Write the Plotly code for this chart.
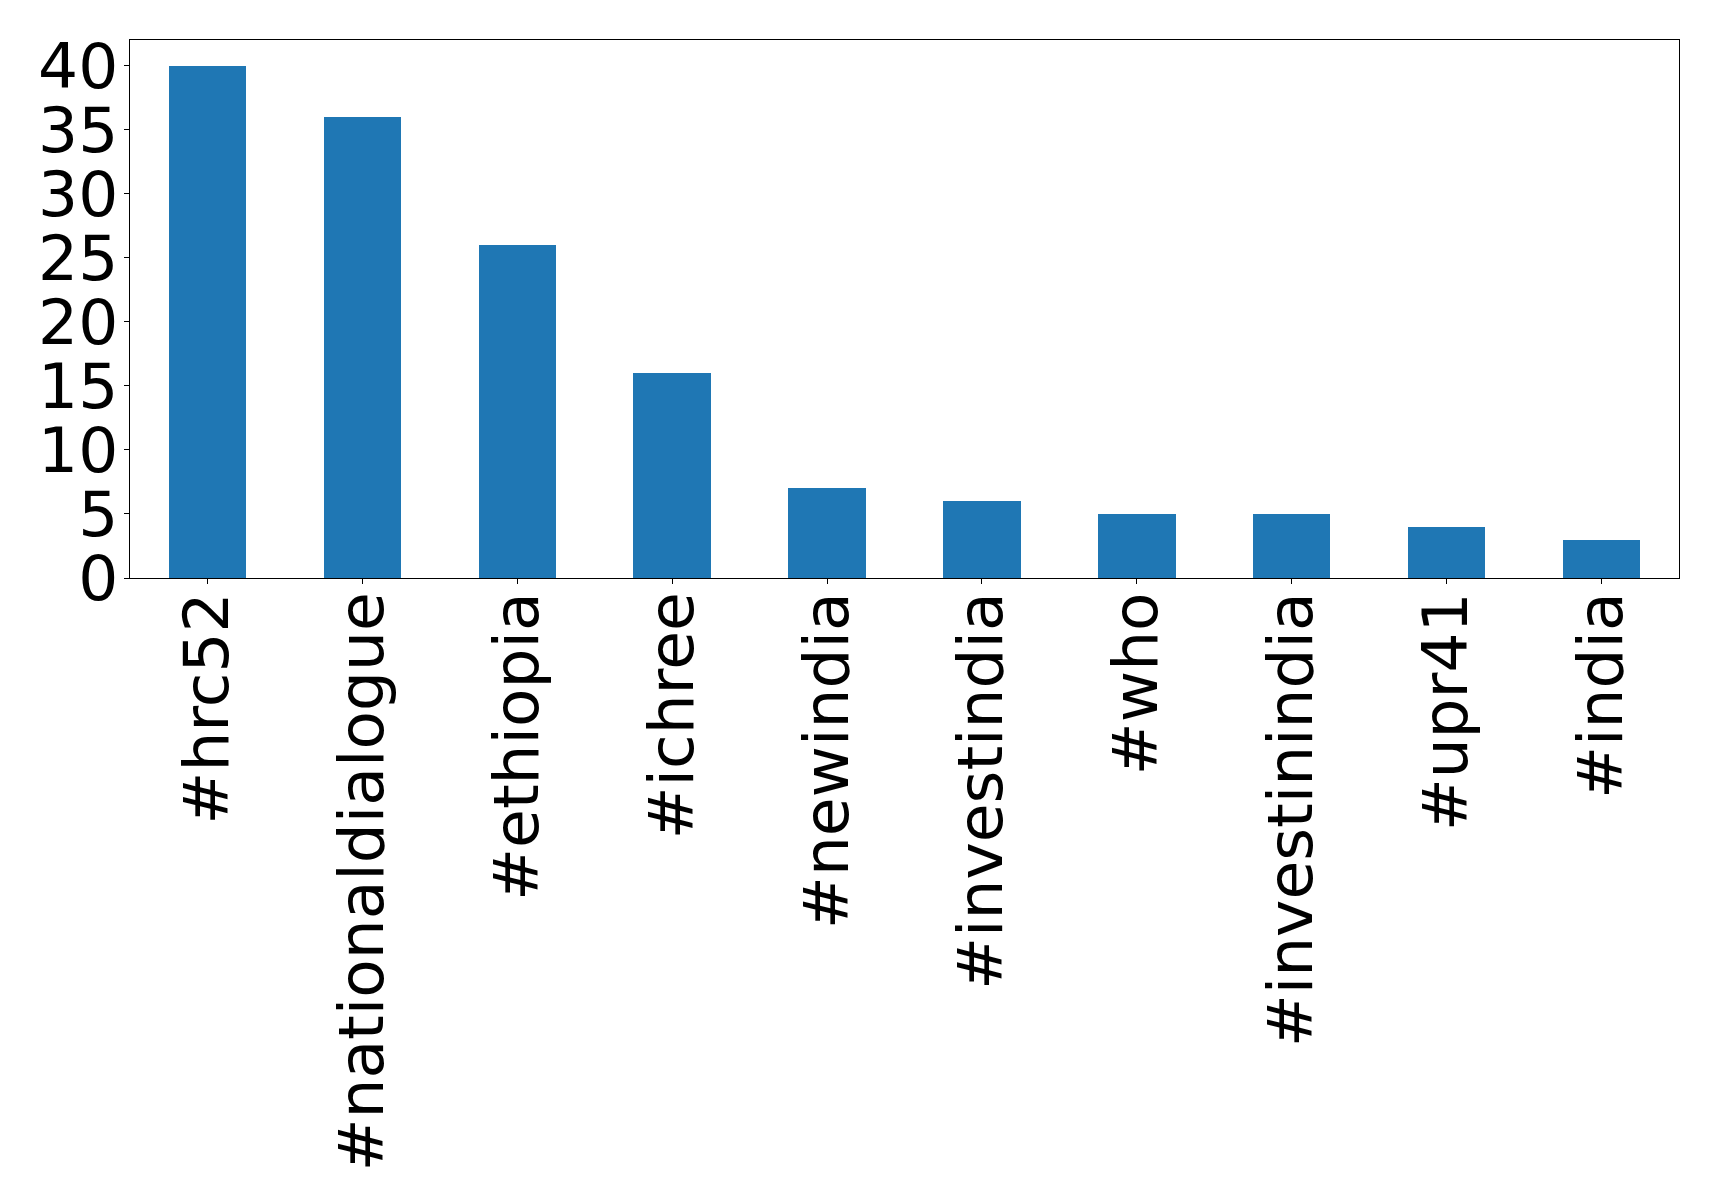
import plotly.graph_objects as go

categories = ["#hrc52", "#nationaldialogue", "#ethiopia", "#ichree", "#newindia",
              "#investindia", "#who", "#investinindia", "#upr41", "#india"]
counts = [40, 36, 26, 16, 7, 6, 5, 5, 4, 3]

fig = go.Figure(go.Bar(x=list(range(len(categories))), y=counts, width=0.5,
                       marker=dict(color="#1f77b4", line=dict(width=0))))

font = dict(family="DejaVu Sans", size=63, color="black")
fig.update_layout(
    width=1703, height=1186,
    margin=dict(l=121.5, r=32, t=31.5, b=616.3, autoexpand=False),
    plot_bgcolor="white", paper_bgcolor="white",
    showlegend=False, bargap=0,
)
fig.update_xaxes(
    range=[-0.5, 9.5], tickmode="array", tickvals=list(range(len(categories))),
    ticktext=categories, tickangle=-90, tickfont=font,
    showline=True, linecolor="black", linewidth=1.3, mirror=True,
    ticks="outside", ticklen=5, tickcolor="black", showgrid=False, zeroline=False,
    ticklabelstandoff=-17,
)
fig.update_yaxes(
    range=[0, 42], tickmode="array", tickvals=[0, 5, 10, 15, 20, 25, 30, 35, 40],
    tickfont=font, showline=True, linecolor="black", linewidth=1.3, mirror=True,
    ticks="outside", ticklen=5, tickcolor="black", showgrid=False, zeroline=False,
    ticklabelstandoff=-7,
)
fig.write_html("out.html")
